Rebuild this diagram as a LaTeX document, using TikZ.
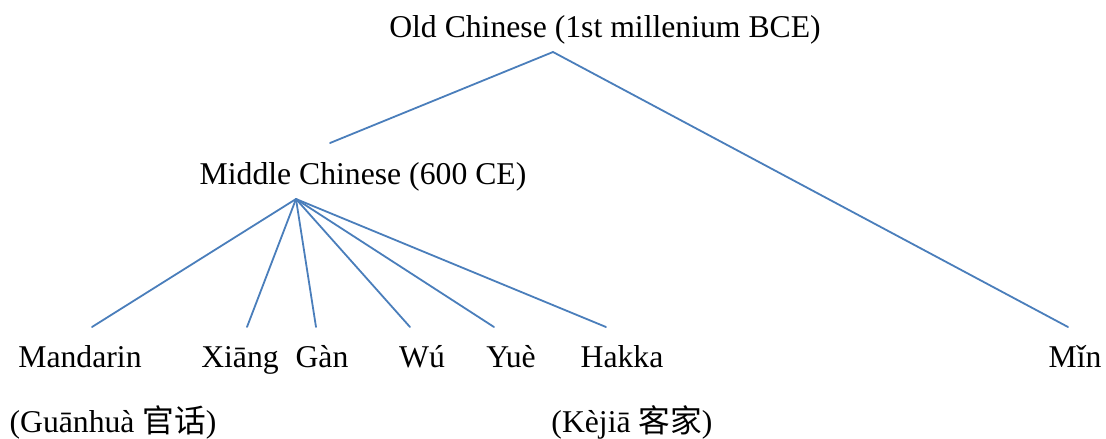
\documentclass[tikz,border=0pt]{standalone}
\usepackage{fontspec}
\setmainfont{Liberation Serif}
\newfontfamily\cjk{Noto Sans CJK SC}
\usepackage{tikz}
\usetikzlibrary{calc}
\definecolor{branchblue}{HTML}{4A7EBB}

\begin{document}
\begin{tikzpicture}[x=1pt,y=-1pt,
        lang/.style={inner sep=0pt,anchor=base,font=\fontsize{31.7}{38}\selectfont},
        branch/.style={branchblue,line width=1.8pt,line cap=round}]

        % fix the frame
        \useasboundingbox (0,0) rectangle (1106,439);

        % the two upper stages
        \node[lang] (old) at (605,37) {Old Chinese (1st millenium BCE)};
        \node[lang] (middle) at (363,184) {Middle Chinese (600 CE)};

        % the daughter languages
        \foreach \name/\x/\xtext in {
            mandarin/80/Mandarin,
            xiang/240/Xiāng,
            gan/322/Gàn,
            wu/422/Wú,
            yue/511/Yuè,
            hakka/622/Hakka,
            min/1075/Mǐn}
                \node[lang] (\name) at (\x,367) {\xtext};

        % native names
        \node[lang] (guanhua) at (113,432) {(Guānhuà {\cjk 官话})};
        \node[lang] (kejia) at (632,432) {(Kèjiā {\cjk 客家})};

        % end points of the branches
        \coordinate (oldtip) at (553,52);
        \coordinate (midtop) at (330,143);
        \coordinate (midtip) at (296,199);
        \coordinate (mintop) at (1068,327);

        % draw the branches
        \draw[branch] (oldtip) -- (midtop);
        \draw[branch] (oldtip) -- (mintop);
        \foreach \name/\x in {mandarin/92,xiang/247,gan/316,wu/410,yue/494,hakka/606}
                \draw[branch] (midtip) -- (\x,327) coordinate (\name top);
\end{tikzpicture}
\end{document}
